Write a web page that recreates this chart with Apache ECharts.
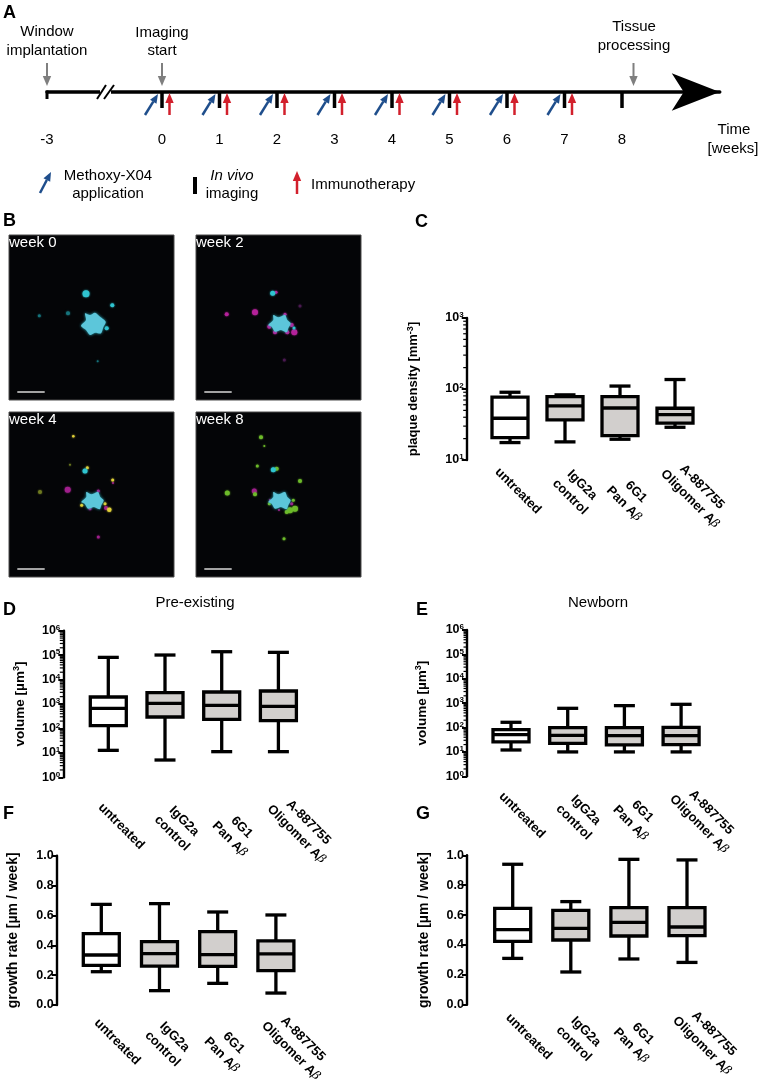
<!DOCTYPE html>
<html>
<head>
<meta charset="utf-8">
<style>
  html, body { margin: 0; background: #fff; }
  #chart { width: 760px; height: 1081px; }
</style>
</head>
<body>
<div id="chart"></div>
<script src="https://cdn.jsdelivr.net/npm/echarts@6/dist/echarts.min.js"></script>
<script>
// box rows are [min, q1, median, q3, max], one per treatment group
const categories = ['untreated', 'IgG2a\ncontrol', '6G1\nPan Aβ', 'A-887755\nOligomer Aβ']
const plaqueDensity = [[17.6, 20.7, 38.7, 76.7, 90], [18, 36.7, 57.8, 78, 82.7], [19.6, 22, 54, 78, 110], [28.9, 33, 43.7, 53.6, 136]]
const preExistingVolume = [[12.7, 130, 665, 1930, 81000], [5.1, 294, 1065, 2900, 101000], [11.2, 236, 881, 3100, 138000], [11.2, 208, 803, 3400, 130000]]
const newbornVolume = [[12, 25.6, 51, 82, 164], [10, 22.5, 48, 99, 614], [10, 19.3, 46.5, 99, 790], [10, 19.9, 46.5, 102, 896]]
const preExistingGrowth = [[0.223, 0.266, 0.335, 0.478, 0.674], [0.096, 0.261, 0.344, 0.424, 0.679], [0.145, 0.259, 0.337, 0.491, 0.623], [0.08, 0.23, 0.342, 0.429, 0.603]]
const newbornGrowth = [[0.31, 0.424, 0.502, 0.645, 0.94], [0.219, 0.433, 0.511, 0.632, 0.69], [0.306, 0.46, 0.551, 0.65, 0.973], [0.283, 0.462, 0.52, 0.65, 0.969]]

// timeline, in weeks. The axis is broken: -3 sits one slot left of -1
const weekTicks = [-2, 0, 1, 2, 3, 4, 5, 6, 7, 8]
const weekLabels = ['-3', '0', '1', '2', '3', '4', '5', '6', '7', '8']
const imagingWeeks = [0, 1, 2, 3, 4, 5, 6, 7, 8]
const treatmentWeeks = [0, 1, 2, 3, 4, 5, 6, 7]
const milestoneWeeks = [-2, 0, 8.2]

// microscopy panels, [x, y, size] in panel pixels
const outlineWeek0 = [[76, 78.3], [81, 80], [86, 77.7], [91, 81.7], [96.7, 86.7], [94.3, 92.3], [92, 98.3], [86, 97.7], [81, 100], [77, 95], [72, 90.7], [77, 85]]
const outlineLater = [[77.3, 80], [82.3, 82.3], [89, 80], [91.3, 85], [94.7, 88.3], [92.3, 93.3], [90.7, 97.3], [85, 95], [79, 96.7], [75.7, 91.7], [72.3, 90], [77.3, 85]]
const week0Cyan = [[77, 58.7, 7], [103.3, 70.3, 4], [97.7, 93.3, 4]]
const week0Teal = [[59, 78.3, 4], [30.3, 80.7, 3], [88.7, 126.3, 2]]
const week2Cyan = [[76.7, 58.3, 5], [98, 93, 3]]
const week2Magenta = [[80, 57.3, 3], [59, 77.3, 6], [30.7, 79.3, 4], [73.3, 91.7, 4], [79, 97.3, 4], [91.3, 97.3, 4], [98.3, 97.3, 6], [95.7, 90, 4], [89, 79.3, 3]]
const week2DimMagenta = [[104, 71, 3], [88.3, 125, 3]]
const week4Cyan = [[76, 59, 5]]
const week4Yellow = [[64.3, 24.3, 2.5], [78.3, 55.7, 3], [103.7, 68, 3], [72.7, 93.3, 3], [100.3, 97.7, 4.5], [96, 91.7, 3]]
const week4Olive = [[61, 52.7, 2], [31, 80, 4]]
const week4Magenta = [[58.7, 77.7, 6], [89.3, 79, 3], [81, 96.7, 3], [97, 96, 4], [104, 71, 2], [89.3, 125, 3]]
const week8Cyan = [[77.3, 57.7, 5]]
const week8Green = [[65, 25.3, 4], [68.3, 34, 2], [61.3, 54, 3], [80.7, 56.7, 4], [104, 69, 4], [31.3, 81, 5], [59, 82.3, 4], [94, 98.3, 6], [99, 96.7, 6], [90.7, 100, 4], [73.3, 91.7, 3], [97.3, 88.3, 3], [88, 126.7, 3]]
const week8Magenta = [[58.3, 79, 5], [95.7, 91.7, 3], [74, 88, 2], [83, 98, 2]]
const scaleBar = [[8.3, 157], [35.7, 157]]

const FONT = '"Liberation Sans", Arial, sans-serif'
const BOX_GREY = '#d2cfcd'
const LOG_MINOR = [2, 3, 4, 5, 6, 7, 8, 9]
const BOX_LINE = 3.3

const boxPanels = [
  { rows: plaqueDensity, axisX: 466.7, cx: 510, step: 55, top: 318, bottom: 460, log: [1, 3], name: '{n|plaque density [mm}{s|-3}{n|]}', nameGap: 45, nameSize: 13,
    labels: [[8, 31], [11, 31], [10, 38], [21, 33]] },
  { rows: preExistingVolume, axisX: 63.3, cx: 108.3, step: 56.7, top: 630.7, bottom: 777.3, log: [0, 6], name: '{n|volume [µm}{s|3}{n|]}', nameGap: 35, nameSize: 13.5,
    labels: [[13, 49], [13, 50], [14, 56], [24, 51]] },
  { rows: newbornVolume, axisX: 467, cx: 511, step: 56.7, top: 630, bottom: 776.3, log: [0, 6], name: '{n|volume [µm}{s|3}{n|]}', nameGap: 37, nameSize: 13.5,
    labels: [[11, 39], [12, 40], [12, 41], [24, 42]] },
  { rows: preExistingGrowth, axisX: 56.7, cx: 101.3, step: 58.2, top: 855.7, bottom: 1005, name: '{n|growth rate [µm / week]}', nameGap: 36, nameSize: 14,
    labels: [[16, 37], [9, 38], [10, 44], [21, 40]] },
  { rows: newbornGrowth, axisX: 467, cx: 512.7, step: 58.1, top: 855.3, bottom: 1004.7, name: '{n|growth rate [µm / week]}', nameGap: 35, nameSize: 14,
    labels: [[16, 32], [9, 33], [8, 35], [21, 35]] },
]

const imagePanels = [
  { left: 9, top: 235, title: 'week 0', outline: outlineWeek0, under: [], over: [['#2fc4d0', week0Cyan], ['#16747c', week0Teal]] },
  { left: 196, top: 235, title: 'week 2', outline: outlineLater, under: [['#b5219a', week2Magenta], ['#4a1a50', week2DimMagenta]], over: [['#2fc4d0', week2Cyan]] },
  { left: 9, top: 412, title: 'week 4', outline: outlineLater, under: [['#a01f8c', week4Magenta], ['#e0d038', week4Yellow], ['#6e7a20', week4Olive]], over: [['#2fc4d0', week4Cyan]] },
  { left: 196, top: 412, title: 'week 8', outline: outlineLater, under: [['#a01f8c', week8Magenta], ['#6dbb2a', week8Green]], over: [['#2fc4d0', week8Cyan]] },
]

const grids = []
const xAxes = []
const yAxes = []
const series = []

const lineEl = (x1, y1, x2, y2, stroke, lineWidth) => ({ type: 'line', shape: { x1, y1, x2, y2 }, style: { stroke, lineWidth, fill: null } })

// shaft plus filled head, tip at (x2, y2)
function arrowEl(x1, y1, x2, y2, color, width, head) {
  const a = Math.atan2(y2 - y1, x2 - x1)
  const bx = x2 - Math.cos(a) * head
  const by = y2 - Math.sin(a) * head
  const nx = -Math.sin(a) * head * 0.42
  const ny = Math.cos(a) * head * 0.42
  return {
    type: 'group',
    children: [
      lineEl(x1, y1, bx, by, color, width),
      { type: 'polygon', shape: { points: [[x2, y2], [bx + nx, by + ny], [bx - nx, by - ny]] }, style: { fill: color } },
    ],
  }
}

const labelText = (s) => s.replace('β', '{g|β}')

// box panels
boxPanels.forEach((p) => {
  const index = grids.length
  const left = p.cx - p.step / 2
  grids.push({ left, top: p.top, width: p.step * 4, height: p.bottom - p.top })
  xAxes.push({ type: 'category', gridIndex: index, data: categories, show: false })
  yAxes.push({
    type: p.log ? 'log' : 'value',
    gridIndex: index,
    logBase: 10,
    min: p.log ? Math.pow(10, p.log[0]) : 0,
    max: p.log ? Math.pow(10, p.log[1]) : 1,
    interval: p.log ? 1 : 0.2,
    offset: left - p.axisX,
    name: p.name,
    nameLocation: 'middle',
    nameGap: p.nameGap,
    nameTextStyle: {
      rich: {
        n: { fontFamily: FONT, fontSize: p.nameSize, fontWeight: 'bold', color: '#000', lineHeight: 16 },
        s: { fontFamily: FONT, fontSize: 9, fontWeight: 'bold', color: '#000', lineHeight: 16, verticalAlign: 'top' },
      },
    },
    splitLine: { show: false },
    axisLine: { show: true, lineStyle: { color: '#000', width: 2.4 } },
    axisTick: { show: true, length: 5, lineStyle: { color: '#000', width: 2 } },
    axisLabel: {
      color: '#000',
      fontFamily: FONT,
      fontWeight: 'bold',
      fontSize: 12.5,
      margin: 3,
      formatter: p.log ? (v) => '{b|10}{e|' + Math.round(Math.log10(v)) + '}' : (v) => v.toFixed(1),
      rich: {
        b: { fontFamily: FONT, fontWeight: 'bold', fontSize: 12.5, lineHeight: 14, color: '#000' },
        e: { fontFamily: FONT, fontWeight: 'bold', fontSize: 8, lineHeight: 14, color: '#000', verticalAlign: 'top' },
      },
    },
  })

  // minor decade ticks, the log axis spaces its own ones wrongly
  if (p.log) {
    const minor = []
    for (let d = p.log[0]; d < p.log[1]; d++) LOG_MINOR.forEach((m) => minor.push([0, m * Math.pow(10, d)]))
    series.push({
      type: 'custom',
      xAxisIndex: index,
      yAxisIndex: index,
      data: minor,
      silent: true,
      renderItem: (params, api) => {
        const y = api.coord([0, api.value(1)])[1]
        return lineEl(p.axisX - 3.5, y, p.axisX, y, '#000', 1.2)
      },
    })
  }

  series.push({
    type: 'custom',
    xAxisIndex: index,
    yAxisIndex: index,
    data: p.rows.map((r, i) => [i, ...r]),
    silent: true,
    renderItem: (params, api) => {
      const i = api.value(0)
      const [x, yMin] = api.coord([i, api.value(1)])
      const yQ1 = api.coord([i, api.value(2)])[1]
      const yMed = api.coord([i, api.value(3)])[1]
      const yQ3 = api.coord([i, api.value(4)])[1]
      const yMax = api.coord([i, api.value(5)])[1]
      const [dx, dy] = p.labels[i]
      return {
        type: 'group',
        children: [
          lineEl(x, yQ1, x, yMin, '#000', BOX_LINE),
          lineEl(x, yQ3, x, yMax, '#000', BOX_LINE),
          lineEl(x - 10.5, yMin, x + 10.5, yMin, '#000', BOX_LINE),
          lineEl(x - 10.5, yMax, x + 10.5, yMax, '#000', BOX_LINE),
          { type: 'rect', shape: { x: x - 18, y: yQ3, width: 36, height: yQ1 - yQ3 }, style: { fill: i === 0 ? '#fff' : BOX_GREY, stroke: '#000', lineWidth: BOX_LINE } },
          lineEl(x - 18, yMed, x + 18, yMed, '#000', BOX_LINE),
          {
            type: 'text',
            x: x + dx,
            y: p.bottom + dy,
            rotation: -Math.PI / 4,
            style: {
              text: labelText(categories[i]),
              font: 'bold 13px ' + FONT,
              fill: '#000',
              align: 'center',
              verticalAlign: 'middle',
              lineHeight: 17,
              rich: { g: { fontFamily: '"DejaVu Serif", serif', fontStyle: 'italic', fontWeight: 'normal', fontSize: 12, fill: '#000' } },
            },
          },
        ],
      }
    },
  })
})

// timeline panel A
const timeIndex = grids.length
grids.push({ left: 47, top: 80, width: 672.75, height: 12 })
xAxes.push({
  type: 'value',
  gridIndex: timeIndex,
  min: -2,
  max: 9.7,
  interval: 1,
  splitLine: { show: false },
  axisTick: { show: false },
  axisLine: { show: true, onZero: false, symbol: ['none', 'arrow'], symbolSize: [28, 48], lineStyle: { color: '#000', width: 3.5 } },
  axisLabel: {
    color: '#000',
    fontFamily: FONT,
    fontSize: 15,
    margin: 40,
    showMaxLabel: false,
    formatter: (v) => (weekTicks.includes(v) ? weekLabels[weekTicks.indexOf(v)] : ''),
  },
})
yAxes.push({ type: 'value', gridIndex: timeIndex, min: 0, max: 1, show: false })

const timeSeries = (weeks, draw) => series.push({
  type: 'custom',
  xAxisIndex: timeIndex,
  yAxisIndex: timeIndex,
  data: weeks.map((w) => [w, 0]),
  silent: true,
  z: 5,
  renderItem: (params, api) => {
    const [x, y] = api.coord([api.value(0), 0])
    return draw(x, y)
  },
})
timeSeries(imagingWeeks, (x, y) => lineEl(x, y, x, y + 16, '#000', 3.5))
timeSeries(weekTicks.slice(0, 1), (x, y) => lineEl(x, y - 1.5, x, y + 7, '#000', 3))
timeSeries(treatmentWeeks, (x, y) => arrowEl(x - 17, y + 23, x - 4, y + 2, '#1f4e8c', 2.5, 9))
timeSeries(treatmentWeeks, (x, y) => arrowEl(x + 7.5, y + 23, x + 7.5, y + 1, '#d2202c', 2.5, 10))
timeSeries(milestoneWeeks, (x, y) => arrowEl(x, y - 29, x, y - 6, '#7f7f7f', 2, 10))

// microscopy panels B
imagePanels.forEach((p) => {
  const index = grids.length
  grids.push({ left: p.left, top: p.top, width: 165, height: 165, show: true, backgroundColor: '#040507', borderColor: '#4a4a4a', borderWidth: 1 })
  xAxes.push({ type: 'value', gridIndex: index, min: 0, max: 165, show: false })
  yAxes.push({ type: 'value', gridIndex: index, min: 0, max: 165, inverse: true, show: false })

  const dots = ([color, rows]) => series.push({
    type: 'scatter',
    xAxisIndex: index,
    yAxisIndex: index,
    data: rows,
    silent: true,
    symbolSize: (d) => d[2],
    itemStyle: { color, opacity: 1, shadowBlur: 2, shadowColor: color },
  })
  p.under.forEach(dots)
  series.push({
    type: 'custom',
    xAxisIndex: index,
    yAxisIndex: index,
    data: [[0, 0]],
    silent: true,
    z: 3,
    renderItem: (params, api) => ({
      type: 'polygon',
      shape: { points: p.outline.map((pt) => api.coord(pt)), smooth: 0.25 },
      style: { fill: '#5cc6da', shadowBlur: 3, shadowColor: '#2fb7c8' },
    }),
  })
  p.over.forEach(dots)
  series.push({
    type: 'line',
    xAxisIndex: index,
    yAxisIndex: index,
    data: scaleBar,
    silent: true,
    symbol: 'none',
    z: 4,
    lineStyle: { color: '#d8d8d8', width: 1.5 },
  })
})

// page text and legend
const text = (x, y, str, font, extra) => ({
  type: 'text',
  x,
  y,
  z: 20,
  style: Object.assign({ text: str, font: font + ' ' + FONT, fill: '#000', align: 'center', verticalAlign: 'middle' }, extra),
})
const PLAIN = '15px'
const LETTER = 'bold 18px'

const graphic = [
  text(3, 13, 'A', LETTER, { align: 'left' }),
  text(3, 221, 'B', LETTER, { align: 'left' }),
  text(415, 222, 'C', LETTER, { align: 'left' }),
  text(3, 610, 'D', LETTER, { align: 'left' }),
  text(416, 610, 'E', LETTER, { align: 'left' }),
  text(3, 814, 'F', LETTER, { align: 'left' }),
  text(416, 814, 'G', LETTER, { align: 'left' }),
  text(195, 603, 'Pre-existing', PLAIN),
  text(598, 603, 'Newborn', PLAIN),

  text(47, 32, 'Window', PLAIN),
  text(47, 51, 'implantation', PLAIN),
  text(162, 33, 'Imaging', PLAIN),
  text(162, 51, 'start', PLAIN),
  text(634, 27, 'Tissue', PLAIN),
  text(634, 46, 'processing', PLAIN),
  text(734, 130, 'Time', PLAIN),
  text(733, 149, '[weeks]', PLAIN),

  // axis break
  Object.assign(lineEl(100, 92, 111, 92, '#fff', 5), { z: 19 }),
  Object.assign(lineEl(97, 99, 106, 85, '#000', 2), { z: 20 }),
  Object.assign(lineEl(104, 99, 114, 85, '#000', 2), { z: 20 }),

  // legend
  Object.assign(arrowEl(40, 193, 51, 172, '#1f4e8c', 2.5, 9), { z: 20 }),
  text(108, 176, 'Methoxy-X04', PLAIN),
  text(108, 194, 'application', PLAIN),
  Object.assign(lineEl(195, 177, 195, 194, '#000', 4), { z: 20 }),
  text(232, 176, 'In vivo', 'italic 15px'),
  text(232, 194, 'imaging', PLAIN),
  Object.assign(arrowEl(297, 194, 297, 171, '#d2202c', 2.5, 10), { z: 20 }),
  text(311, 185, 'Immunotherapy', PLAIN, { align: 'left' }),
]
imagePanels.forEach((p) => graphic.push(text(p.left, p.top + 8, p.title, PLAIN, { align: 'left', fill: '#fff' })))

const chart = echarts.init(document.getElementById('chart'), null, { renderer: 'canvas' })
chart.setOption({
  animation: false,
  backgroundColor: '#fff',
  textStyle: { fontFamily: FONT },
  grid: grids,
  xAxis: xAxes,
  yAxis: yAxes,
  series,
  graphic,
})
</script>
</body>
</html>
